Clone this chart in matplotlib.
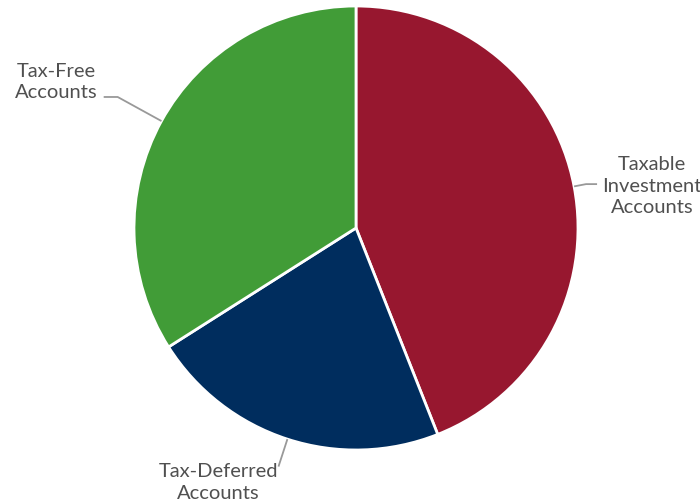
import numpy as np
import matplotlib
matplotlib.use("Agg")
import matplotlib.pyplot as plt

categories = ["Taxable\nInvestment\nAccounts", "Tax-Deferred\nAccounts", "Tax-Free\nAccounts"]
values = [44, 22, 34]
colors = ["#97172F", "#002D5E", "#419C37"]

W, H = 700, 503
R = 222.0           # pie radius in px
CX, CY = 356, 228   # pie centre in px (from top-left)

fig = plt.figure(figsize=(W / 100, H / 100), dpi=100)
ax = fig.add_axes([0, 0, 1, 1])

wedges, _ = ax.pie(values, colors=colors, startangle=90, counterclock=False,
                   radius=1.0, wedgeprops=dict(edgecolor="white", linewidth=2))
ax.set_xlim(-CX / R, (W - CX) / R)
ax.set_ylim(-(H - CY) / R, CY / R)
ax.set_aspect("equal")
ax.axis("off")

# label layout: (elbow radius, horizontal run in px, text offset dx, dy in px from connector end)
layout = [
    (1.055, 11, 55, 2),
    (1.13, 0, -60, 16),
    (1.225, -14, -47, -15),
]

for w, lab, (re, run, tdx, tdy) in zip(wedges, categories, layout):
    ang = np.deg2rad((w.theta1 + w.theta2) / 2)
    ex, ey = np.cos(ang), np.sin(ang)
    x0, y0 = ex * 1.0, ey * 1.0
    x1, y1 = ex * re, ey * re
    x2, y2 = x1 + run / R, y1
    ax.plot([x0, x1, x2], [y0, y1, y2], color="#999999", lw=1.3, solid_capstyle="butt")
    ax.text(x2 + tdx / R, y2 - tdy / R, lab, ha="center", va="center", fontsize=14.5,
            family="Lato", color="#505050", linespacing=1.3, clip_on=False)

fig.savefig("out.png", dpi=100)
